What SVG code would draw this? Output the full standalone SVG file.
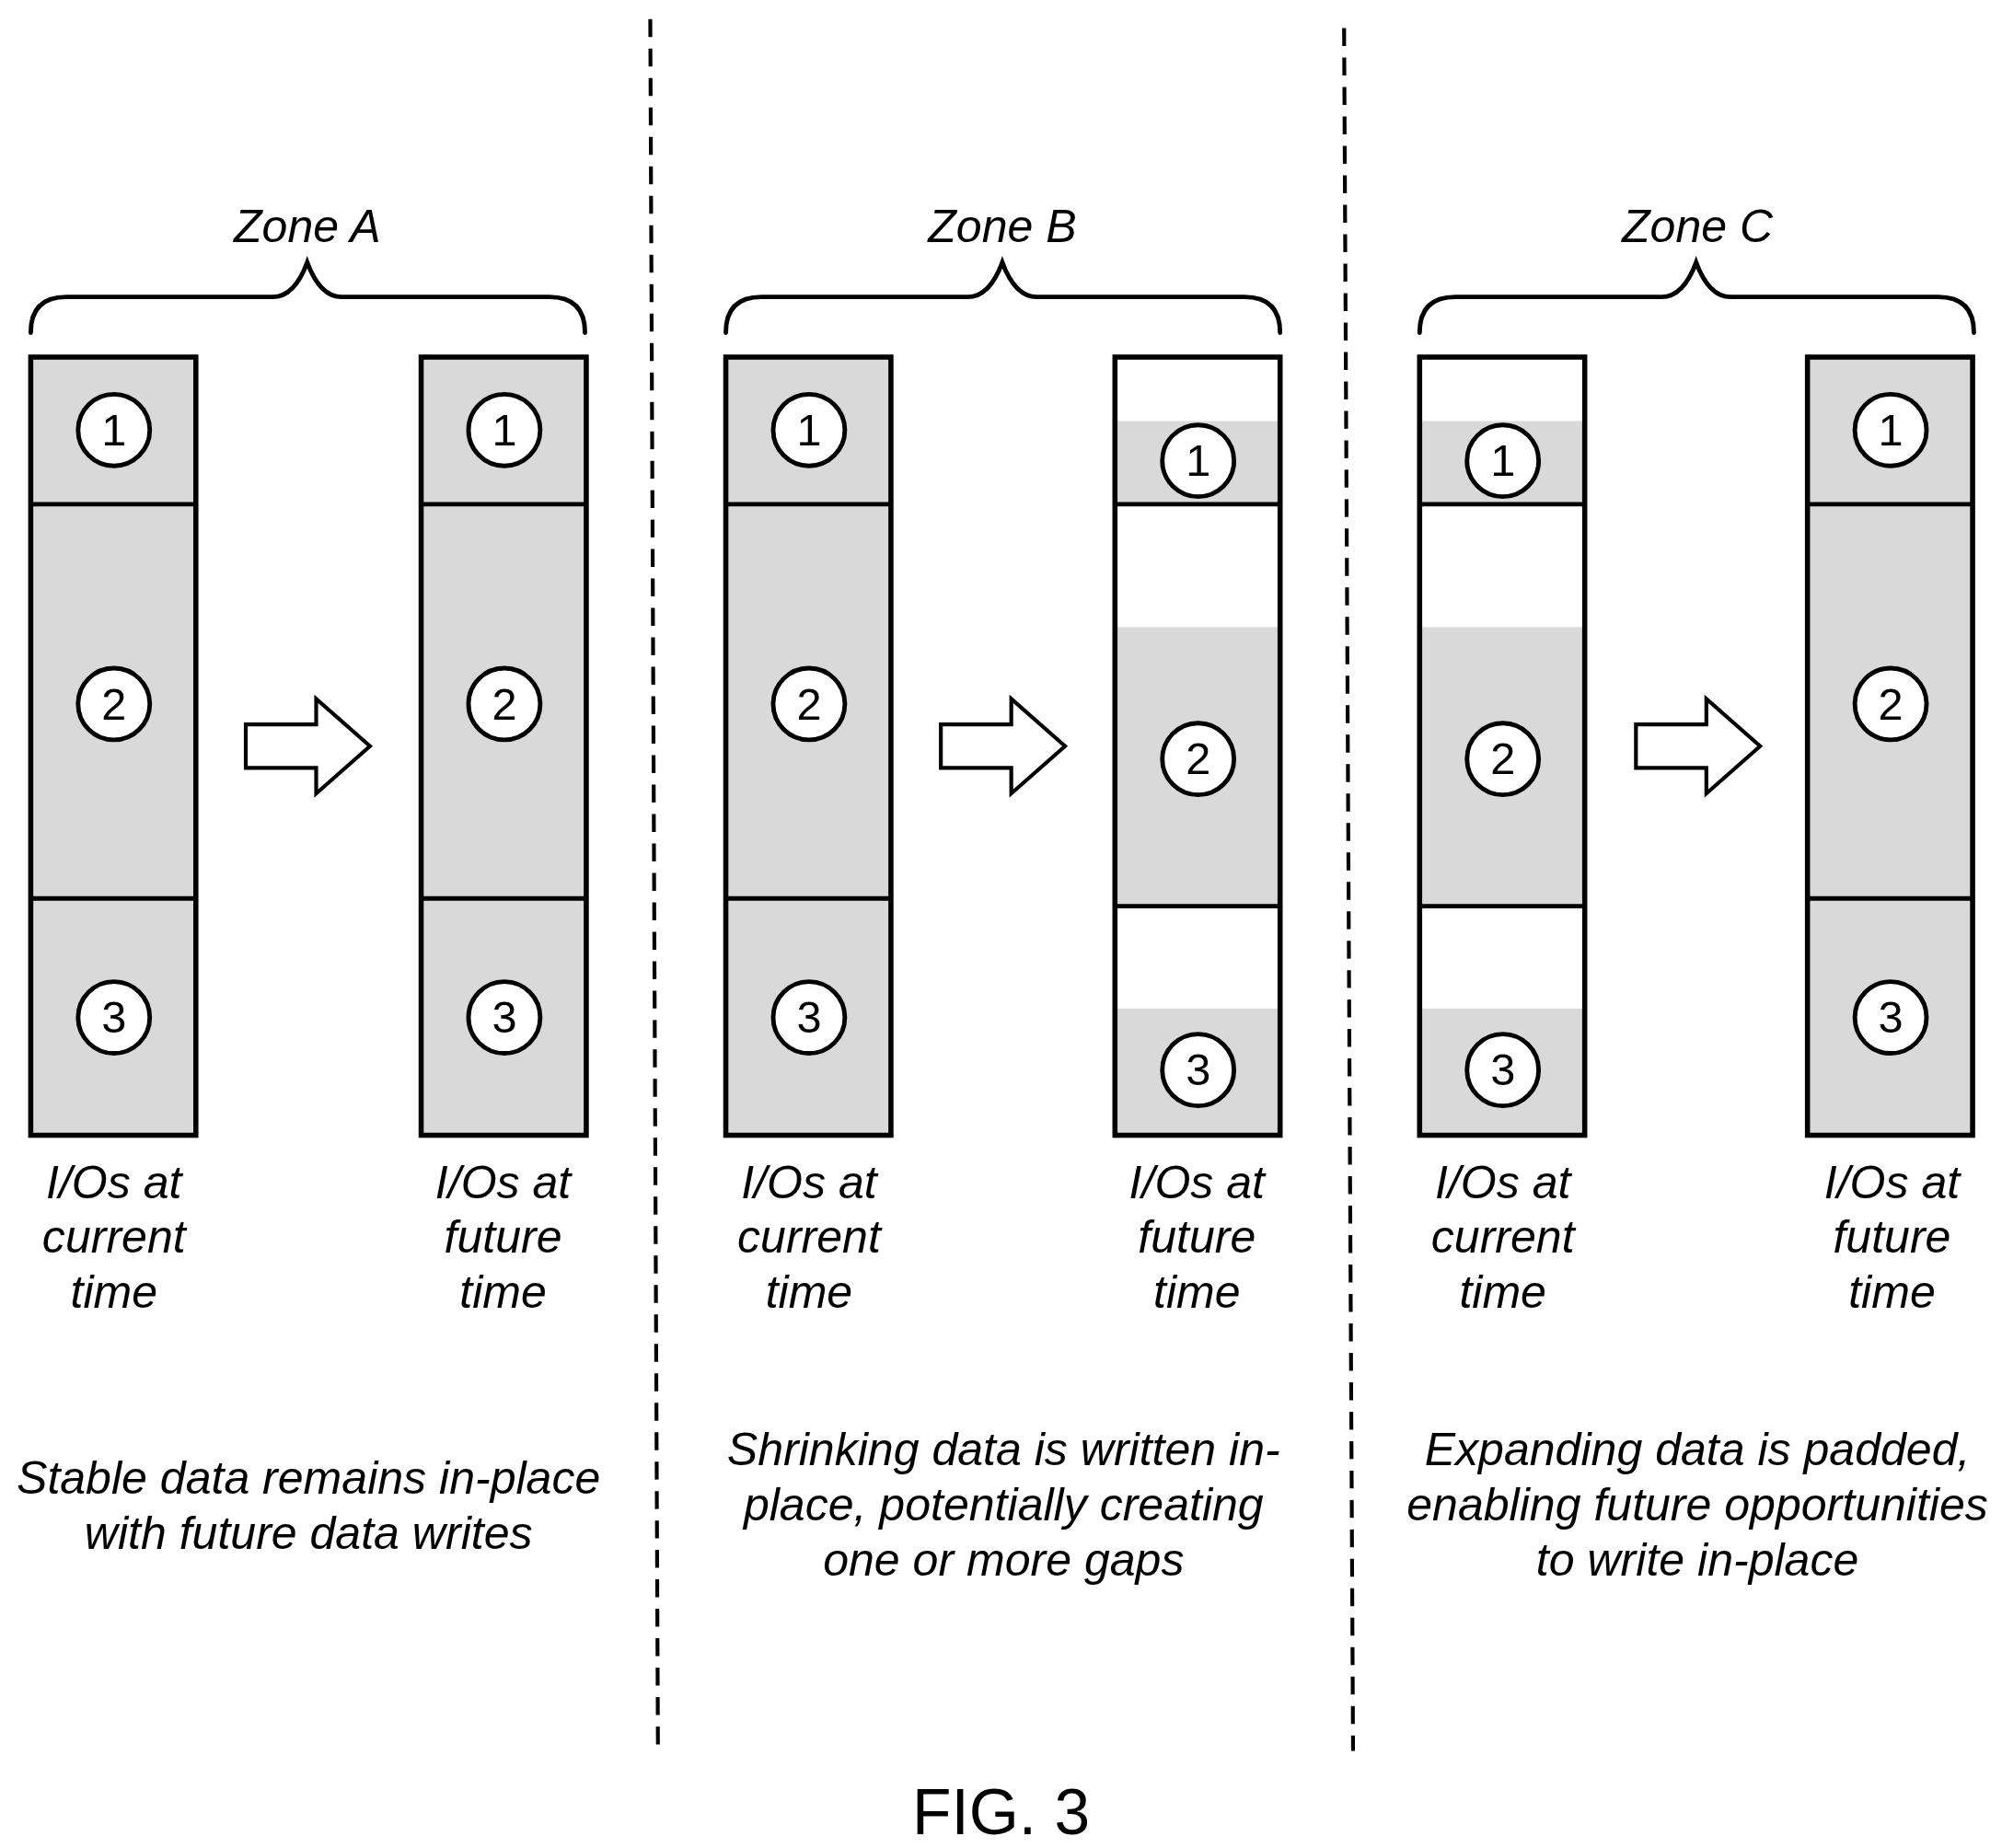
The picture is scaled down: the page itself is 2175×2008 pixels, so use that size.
<svg xmlns="http://www.w3.org/2000/svg" width="2175" height="2008" viewBox="0 0 2175 2008">
<style>
.t{font-family:"Liberation Sans",Arial,sans-serif;font-style:italic;font-size:36px;fill:#000;text-anchor:middle}
.n{font-family:"Liberation Sans",Arial,sans-serif;font-size:35px;fill:#000;text-anchor:middle}
.box{fill:none;stroke:#000;stroke-width:4}
.sh{fill:#d9d9d9}
.c{fill:#fff;stroke:#000;stroke-width:3.5}
.ln{stroke:#000;stroke-width:3.5}
.br{fill:none;stroke:#000;stroke-width:3.5;stroke-linecap:round}
.ar{fill:#fff;stroke:#000;stroke-width:3}
.d{stroke:#000;stroke-width:3;stroke-dasharray:14 9}
</style>
<defs>
<g id="full">
<rect class="sh" x="0" y="0" width="129" height="608"/>
<line class="ln" x1="0" y1="115" x2="129" y2="115"/>
<line class="ln" x1="0" y1="423" x2="129" y2="423"/>
<rect class="box" x="0" y="0" width="129" height="608"/>
<circle class="c" cx="65" cy="57" r="28"/><text class="n" x="65" y="69">1</text>
<circle class="c" cx="65" cy="271" r="28"/><text class="n" x="65" y="283">2</text>
<circle class="c" cx="65" cy="516" r="28"/><text class="n" x="65" y="528">3</text>
</g>
<g id="gap">
<rect x="0" y="0" width="129" height="608" fill="#fff"/>
<rect class="sh" x="0" y="50" width="129" height="65"/>
<rect class="sh" x="0" y="211" width="129" height="218"/>
<rect class="sh" x="0" y="509" width="129" height="99"/>
<line class="ln" x1="0" y1="115" x2="129" y2="115"/>
<line class="ln" x1="0" y1="429" x2="129" y2="429"/>
<rect class="box" x="0" y="0" width="129" height="608"/>
<circle class="c" cx="65" cy="81" r="28"/><text class="n" x="65" y="93">1</text>
<circle class="c" cx="65" cy="314" r="28"/><text class="n" x="65" y="326">2</text>
<circle class="c" cx="65" cy="557" r="28"/><text class="n" x="65" y="569">3</text>
</g>
<path id="arrow" class="ar" d="M0,-17 H55 V-37 L97,0 L55,37 V17 H0 Z"/>
<path id="brace" class="br" d="M0,28 Q0,0 28,0 H189 Q206,0 216,-27 Q226,0 243,0 H405 Q433,0 433,28"/>
</defs>
<g transform="scale(1.3907)">
<g id="dividers">
<line class="d" x1="508" y1="15" x2="514" y2="1368"/>
<line class="d" x1="1050" y1="22" x2="1057" y2="1368"/>
</g>
<g id="zoneA">
<text class="t" x="240" y="189">Zone A</text>
<use href="#brace" x="24" y="232"/>
<use href="#full" x="24" y="279"/>
<use href="#full" x="329" y="279"/>
<use href="#arrow" x="192" y="583"/>
<text class="t" x="89" y="936">I/Os at</text><text class="t" x="89" y="979">current</text><text class="t" x="89" y="1022">time</text>
<text class="t" x="393" y="936">I/Os at</text><text class="t" x="393" y="979">future</text><text class="t" x="393" y="1022">time</text>
<text class="t" x="241" y="1167">Stable data remains in-place</text>
<text class="t" x="241" y="1210">with future data writes</text>
</g>
<g id="zoneB">
<text class="t" x="783" y="189">Zone B</text>
<use href="#brace" x="567" y="232"/>
<use href="#full" x="567" y="279"/>
<use href="#gap" x="871" y="279"/>
<use href="#arrow" x="735" y="583"/>
<text class="t" x="632" y="936">I/Os at</text><text class="t" x="632" y="979">current</text><text class="t" x="632" y="1022">time</text>
<text class="t" x="935" y="936">I/Os at</text><text class="t" x="935" y="979">future</text><text class="t" x="935" y="1022">time</text>
<text class="t" x="784" y="1145">Shrinking data is written in-</text>
<text class="t" x="784" y="1188">place, potentially creating</text>
<text class="t" x="784" y="1231">one or more gaps</text>
</g>
<g id="zoneC">
<text class="t" x="1326" y="189">Zone C</text>
<use href="#brace" x="1109" y="232"/>
<use href="#gap" x="1109" y="279"/>
<use href="#full" x="1412" y="279"/>
<use href="#arrow" x="1278" y="583"/>
<text class="t" x="1174" y="936">I/Os at</text><text class="t" x="1174" y="979">current</text><text class="t" x="1174" y="1022">time</text>
<text class="t" x="1478" y="936">I/Os at</text><text class="t" x="1478" y="979">future</text><text class="t" x="1478" y="1022">time</text>
<text class="t" x="1326" y="1145">Expanding data is padded,</text>
<text class="t" x="1326" y="1188">enabling future opportunities</text>
<text class="t" x="1326" y="1231">to write in-place</text>
</g>
<text x="782" y="1433" font-family="Liberation Sans, Arial, sans-serif" font-size="50" text-anchor="middle">FIG. 3</text>
</g>
</svg>
